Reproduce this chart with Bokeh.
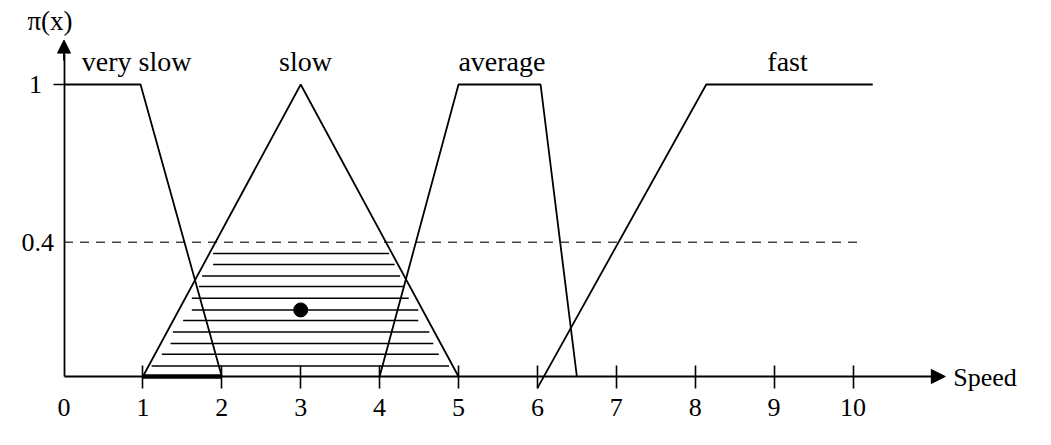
from bokeh.plotting import figure
from bokeh.models import Range1d, LinearAxis, FixedTicker, Arrow, NormalHead
from bokeh.core.properties import value
from bokeh.embed import file_html
from bokeh.resources import INLINE

# ---- data ----
very_slow_x = [0.0, 0.97, 2.0]
very_slow_y = [1.0, 1.0, 0.0]
slow_x = [1.0, 3.0, 5.0]
slow_y = [0.0, 1.0, 0.0]
average_x = [4.0, 5.0, 6.04, 6.5]
average_y = [0.0, 1.0, 1.0, 0.0]
fast_x = [6.0, 8.14, 10.25]
fast_y = [-0.04, 1.0, 1.0]

set_names = ["very slow", "slow", "average", "fast"]
set_label_x = [0.92, 3.06, 5.55, 9.17]
set_label_y = [1.08, 1.08, 1.08, 1.08]

threshold = 0.46          # drawn height of the cut line
threshold_label = "0.4"
threshold_x = [0.0, 10.14]

hatch_y = [0.421, 0.384, 0.344, 0.308, 0.268, 0.228, 0.192, 0.152, 0.113, 0.076, 0.036]
hatch_x0 = [1.89, 1.89, 1.75, 1.71, 1.62, 1.62, 1.51, 1.38, 1.35, 1.24, 1.11]
hatch_x1 = [4.12, 4.19, 4.26, 4.31, 4.37, 4.49, 4.49, 4.63, 4.68, 4.75, 4.88]

centroid_x = [3.0]
centroid_y = [0.228]

support_x = [1.0, 2.0]
support_y = [0.0, 0.0]

x_ticks = [1, 2, 3, 4, 5, 6, 7, 8, 9, 10]
x_origin_tick = [0]
y_ticks = [1]
x_axis_end = 11.17
y_axis_end = 1.152
x_title = "Speed"
x_title_pos = (11.27, -0.005)
y_title = "π(x)"
y_title_pos = (-0.463, 1.216)

FONT = "Liberation Serif"
FS_SET = "28px"
FS = "26px"

p = figure(width=1035, height=429,
           x_range=Range1d(-0.805, 12.313), y_range=Range1d(-0.1815, 1.2877),
           output_backend="svg", toolbar_location=None, min_border=0,
           x_axis_type=None, y_axis_type=None)
p.outline_line_color = None
p.background_fill_color = "white"

def style_axis(ax):
    ax.major_label_text_font = FONT
    ax.major_label_text_font_size = FS
    ax.major_label_text_color = "black"
    ax.minor_tick_line_color = None
    ax.axis_line_color = "black"
    ax.major_tick_line_color = "black"

xa = LinearAxis(ticker=FixedTicker(ticks=x_ticks), fixed_location=0)
style_axis(xa)
xa.axis_line_width = 1.8
xa.major_tick_line_width = 1.6
xa.major_tick_in = 11
xa.major_tick_out = 12
xa.major_label_standoff = 10
xa.bounds = (0, x_axis_end - 0.1)
p.add_layout(xa, "below")

xa0 = LinearAxis(ticker=FixedTicker(ticks=x_origin_tick), fixed_location=0)
style_axis(xa0)
xa0.axis_line_color = None
xa0.major_tick_in = 0
xa0.major_tick_out = 0
xa0.major_label_standoff = 22
p.add_layout(xa0, "below")

ya = LinearAxis(ticker=FixedTicker(ticks=y_ticks), fixed_location=0)
style_axis(ya)
ya.axis_line_width = 1.8
ya.major_tick_line_width = 1.6
ya.major_tick_in = 0
ya.major_tick_out = 11
ya.major_label_standoff = 11
ya.bounds = (0, y_axis_end - 0.05)
p.add_layout(ya, "left")

ya2 = LinearAxis(ticker=FixedTicker(ticks=[threshold]), fixed_location=0)
style_axis(ya2)
ya2.axis_line_color = None
ya2.major_tick_in = 0
ya2.major_tick_out = 0
ya2.major_label_standoff = 10
ya2.major_label_overrides = {threshold: threshold_label}
p.add_layout(ya2, "left")

p.add_layout(Arrow(end=NormalHead(size=14, fill_color="black", line_color="black"),
                   x_start=x_axis_end - 0.15, y_start=0, x_end=x_axis_end, y_end=0,
                   line_width=1.8, line_color="black"))
p.add_layout(Arrow(end=NormalHead(size=13, fill_color="black", line_color="black"),
                   x_start=0, y_start=y_axis_end - 0.07, x_end=0, y_end=y_axis_end,
                   line_width=1.8, line_color="black"))

p.line(threshold_x, [threshold, threshold], line_color="#444444", line_width=1.6, line_dash="9 7")

p.segment(x0=hatch_x0, y0=hatch_y, x1=hatch_x1, y1=hatch_y, line_color="black", line_width=1.5)

for xs, ys in [(very_slow_x, very_slow_y), (slow_x, slow_y), (average_x, average_y), (fast_x, fast_y)]:
    p.line(xs, ys, line_color="black", line_width=1.8)

p.line(support_x, support_y, line_color="black", line_width=4.5)

p.scatter(centroid_x, centroid_y, size=14, color="black")

p.text(x=set_label_x, y=set_label_y, text=set_names, text_font=value(FONT),
       text_font_size=FS_SET, text_align="center", text_baseline="alphabetic", text_color="black")
p.text(x=[x_title_pos[0]], y=[x_title_pos[1]], text=[x_title], text_font=value(FONT),
       text_font_size=FS, text_align="left", text_baseline="alphabetic", text_color="black")
p.text(x=[y_title_pos[0]], y=[y_title_pos[1]], text=[y_title], text_font=value(FONT),
       text_font_size="27px", text_align="left", text_baseline="alphabetic", text_color="black")

open("out.html", "w").write(file_html(p, INLINE))
